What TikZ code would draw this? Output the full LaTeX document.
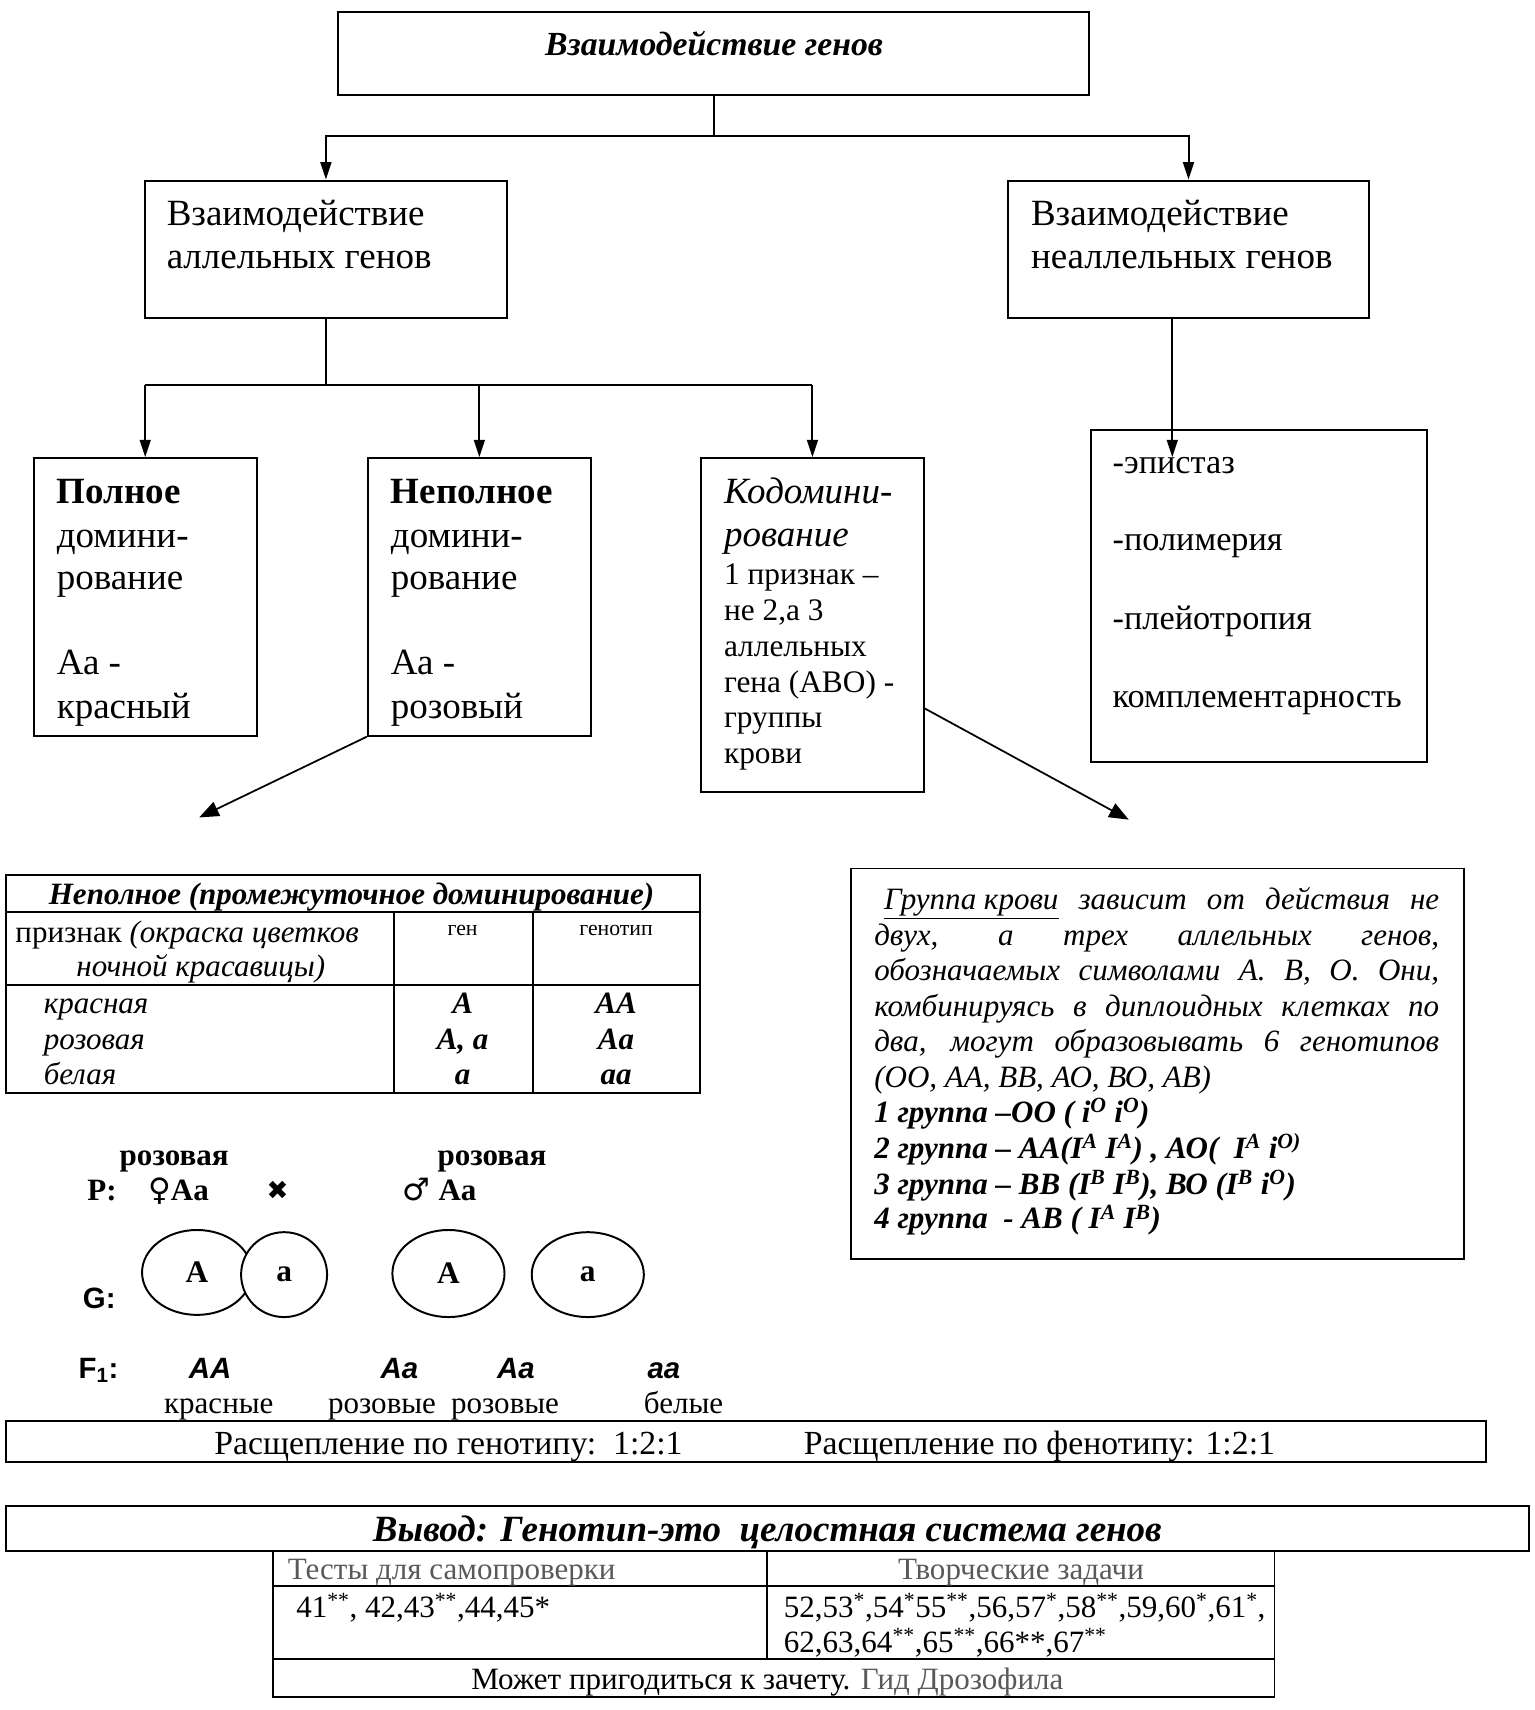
\documentclass[tikz,border=0pt]{standalone}
\usepackage{fontspec}
\setmainfont{Liberation Serif}
\setsansfont{Liberation Sans}
\newfontfamily\symfnt{DejaVu Sans}
\usetikzlibrary{arrows.meta,shapes.geometric}
\newcommand\szA{\fontsize{34}{40}\selectfont}
\newcommand\szT{\fontsize{31}{38}\selectfont}
\newcommand\szB{\fontsize{28.8}{33}\selectfont}
\newcommand\szE{\fontsize{31.5}{36}\selectfont}
\newcommand\szC{\fontsize{28.5}{32}\selectfont}
\newcommand\szR{\fontsize{31}{36}\selectfont}
\newcommand\szS{\fontsize{20}{24}\selectfont}
\definecolor{greytxt}{gray}{0.35}
\begin{document}
\begin{tikzpicture}[x=1pt,y=-1pt,
  box/.style={draw, line width=1.8pt, anchor=north west, inner sep=0pt},
  ln/.style={line width=1.8pt},
  tl/.style={line width=1.7pt},
  arr/.style={line width=1.8pt, -{Triangle[length=16pt,width=10pt]}},
  darr/.style={line width=1.6pt, -{Triangle[length=18pt,width=14pt]}},
  tw/.style={anchor=base west, inner sep=0pt},
  tc/.style={anchor=base, inner sep=0pt},
  gam/.style={draw, ellipse, line width=1.8pt, fill=white, inner sep=0pt, font=\szB\bfseries},
]
\path[use as bounding box] (0,0) rectangle (1410,1571);

% ---------- top hierarchy ----------
\node[box, minimum width=690, minimum height=76] (top) at (310,10) {};
\node[tc, font=\szT\bfseries\itshape] (toptxt) at (656,51) {Взаимодействие генов};

\node[box, minimum width=333, minimum height=126] (allel) at (132,165) {};
\node[tw, font=\szA] (al1) at (153,207) {Взаимодействие};
\node[tw, font=\szA] (al2) at (153,247) {аллельных генов};

\node[box, minimum width=332, minimum height=126] (nonal) at (925,165) {};
\node[tw, font=\szA] (na1) at (947,207) {Взаимодействие};
\node[tw, font=\szA] (na2) at (947,247) {неаллельных генов};

\coordinate (j1) at (656,125);
\draw[ln] (top.south) -- (top.south |- j1);
\draw[arr] (top.south |- j1) -| (allel.north);
\draw[arr] (top.south |- j1) -| (nonal.north);

% ---------- allelic types ----------
\node[box, minimum width=205, minimum height=255] (full) at (30,420) {};
\node[tw, font=\szA\bfseries] (f1) at (52,463) {Полное};
\node[tw, font=\szA] (f2) at (52,503) {домини-};
\node[tw, font=\szA] (f3) at (52,542) {рование};
\node[tw, font=\szA] (f4) at (52,620) {Аа -};
\node[tw, font=\szA] (f5) at (52,660) {красный};

\node[box, minimum width=205, minimum height=255] (incomp) at (337,420) {};
\node[tw, font=\szA\bfseries] (n1) at (359,463) {Неполное};
\node[tw, font=\szA] (n2) at (359,503) {домини-};
\node[tw, font=\szA] (n3) at (359,542) {рование};
\node[tw, font=\szA] (n4) at (359,620) {Аа -};
\node[tw, font=\szA] (n5) at (359,660) {розовый};

\node[box, minimum width=205, minimum height=307] (codom) at (643,420) {};
\node[tw, font=\szA\itshape] (c1) at (665,463) {Кодомини-};
\node[tw, font=\szA\itshape] (c2) at (665,502) {рование};
\node[tw, font=\szB] (c3) at (665,537) {1 признак –};
\node[tw, font=\szB] (c4) at (665,570) {не 2,а 3};
\node[tw, font=\szB] (c5) at (665,603) {аллельных};
\node[tw, font=\szB] (c6) at (665,636) {гена (АВО) -};
\node[tw, font=\szB] (c7) at (665,668) {группы};
\node[tw, font=\szB] (c8) at (665,701) {крови};

\coordinate (j2) at (298,354);
\draw[ln] (allel.south) -- (allel.south |- j2);
\draw[ln] (full.north |- j2) -- (codom.north |- j2);
\draw[arr] (full.north |- j2) -- (full.north);
\draw[arr] (incomp.north |- j2) -- (incomp.north);
\draw[arr] (codom.north |- j2) -- (codom.north);

% ---------- non-allelic ----------
\node[box, minimum width=309, minimum height=305] (nonlist) at (1001,394) {};
\node[tw, font=\szE] (e1) at (1022,435) {-эпистаз};
\node[tw, font=\szE] (e2) at (1022,506) {-полимерия};
\node[tw, font=\szE] (e3) at (1022,578) {-плейотропия};
\node[tw, font=\szE] (e4) at (1022,650) {комплементарность};
\coordinate (nstart) at (1077,291);
\coordinate (nend) at (1077,420);
\draw[arr] (nstart) -- (nend);

% ---------- diagonal arrows ----------
\coordinate (dl) at (183,751);
\coordinate (dr) at (1037,753);
\draw[darr] (incomp.south west) -- (dl);
\coordinate (cst) at (848,650);
\draw[darr] (cst) -- (dr);

% ---------- left table ----------
\node[draw, tl, anchor=north west, inner sep=0pt, minimum width=637, minimum height=200] (tab) at (5,803) {};
\draw[tl] (tab.west |- 0,838) -- (tab.east |- 0,838);
\draw[tl] (tab.west |- 0,905) -- (tab.east |- 0,905);
\draw[tl] (362,838) -- (362,1003);
\draw[tl] (490,838) -- (490,1003);
\node[tc, font=\szC\bfseries\itshape] (tt) at (323,831) {Неполное (промежуточное доминирование)};
\node[tw, font=\szC] (th1) at (14,866) {признак \textit{(окраска цветков}};
\node[tw, font=\szC\itshape] (th2) at (70,897) {ночной красавицы)};
\node[tc, font=\szS] (th3) at (425,859) {ген};
\node[tc, font=\szS] (th4) at (566,859) {генотип};
\node[tw, font=\szC\itshape] (r1) at (40,931) {красная};
\node[tw, font=\szC\itshape] (r2) at (40,964) {розовая};
\node[tw, font=\szC\itshape] (r3) at (40,996) {белая};
\node[tc, font=\szC\bfseries\itshape] (g1) at (425,931) {A};
\node[tc, font=\szC\bfseries\itshape] (g2) at (425,964) {A, a};
\node[tc, font=\szC\bfseries\itshape] (g3) at (425,996) {a};
\node[tc, font=\szC\bfseries\itshape] (k1) at (566,931) {AA};
\node[tc, font=\szC\bfseries\itshape] (k2) at (566,964) {Aa};
\node[tc, font=\szC\bfseries\itshape] (k3) at (566,996) {aa};

% ---------- right (blood group) box ----------
\node[box, minimum width=563, minimum height=359] (blood) at (781,797) {};
\begin{scope}[every node/.style={tw, font=\szC\itshape}]
\node (b1) at (803,836) {\makebox[519pt][s]{\hspace*{9pt}\underline{Группа крови} зависит от действия не}};
\node (b2) at (803,869) {\makebox[519pt][s]{двух, а трех аллельных генов,}};
\node (b3) at (803,901) {\makebox[519pt][s]{обозначаемых символами А. В, О. Они,}};
\node (b4) at (803,934) {\makebox[519pt][s]{комбинируясь в диплоидных клетках по}};
\node (b5) at (803,966) {\makebox[519pt][s]{два, могут образовывать 6 генотипов}};
\node (b6) at (803,999) {(ОО, АА, ВВ, АО, ВО, АВ)};
\node[font=\szC\bfseries\itshape] (b7) at (803,1031) {1 группа –ОО ( i\textsuperscript{O} i\textsuperscript{O})};
\node[font=\szC\bfseries\itshape] (b8) at (803,1064) {2 группа – АА(I\textsuperscript{A} I\textsuperscript{A}) , АО(\ \ I\textsuperscript{A} i\textsuperscript{O)}};
\node[font=\szC\bfseries\itshape] (b9) at (803,1097) {3 группа – ВВ (I\textsuperscript{B} I\textsuperscript{B}), ВО (I\textsuperscript{B} i\textsuperscript{O})};
\node[font=\szC\bfseries\itshape] (b10) at (803,1129) {4 группа \ - АВ ( I\textsuperscript{A} I\textsuperscript{B})};
\end{scope}

% ---------- cross scheme ----------
\node[tc, font=\szC\bfseries] (pr1) at (160,1071) {розовая};
\node[tc, font=\szC\bfseries] (pr2) at (452,1071) {розовая};
\node[tw, font=\szC\bfseries] (P) at (80,1103) {P:};
\node[tw, font=\szC\bfseries] (fem) at (136,1103) {{\symfnt\mdseries ♀}Aa};
\node[tc, font=\fontsize{24}{28}\selectfont\symfnt] (cross) at (255,1102) {✖};
\node[tw, font=\szC\bfseries] (mal) at (370,1103) {{\symfnt\mdseries ♂} Aa};

\node[gam, minimum width=101, minimum height=78] (gA1) at (181,1169) {A};
\node[gam, minimum width=79, minimum height=78] (ga1) at (261,1171) {a};
\node[gam, minimum width=103, minimum height=80] (gA2) at (412,1170) {A};
\node[gam, minimum width=103, minimum height=78] (ga2) at (540,1171) {a};
\node[tw, font=\fontsize{27}{32}\selectfont\sffamily\bfseries] (G) at (76,1202) {G:};

\node[tw, font=\fontsize{27}{32}\selectfont\sffamily\bfseries] (F) at (72,1266) {F\textsubscript{1}:};
\node[tc, font=\fontsize{27}{32}\selectfont\sffamily\bfseries\itshape] (o1) at (193,1266) {AA};
\node[tc, font=\fontsize{27}{32}\selectfont\sffamily\bfseries\itshape] (o2) at (367,1266) {Aa};
\node[tc, font=\fontsize{27}{32}\selectfont\sffamily\bfseries\itshape] (o3) at (474,1266) {Aa};
\node[tc, font=\fontsize{27}{32}\selectfont\sffamily\bfseries\itshape] (o4) at (610,1266) {aa};
\node[tc, font=\szC] (p1) at (201,1299) {красные};
\node[tc, font=\szC] (p2) at (351,1299) {розовые};
\node[tc, font=\szC] (p3) at (464,1299) {розовые};
\node[tc, font=\szC] (p4) at (628,1299) {белые};

\node[draw, tl, anchor=north west, inner sep=0pt, minimum width=1359, minimum height=37] (split) at (5,1305) {};
\node[tc, font=\szR] (s1) at (412,1336) {Расщепление по генотипу:\ \ 1:2:1};
\node[tc, font=\szR] (s2) at (955,1336) {Расщепление по фенотипу: 1:2:1};

% ---------- conclusion ----------
\node[draw, ln, anchor=north west, inner sep=0pt, minimum width=1399, minimum height=41] (concl) at (5,1383) {};
\node[tc, font=\fontsize{34}{40}\selectfont\bfseries\itshape] (ct) at (705,1416) {Вывод: Генотип-это\ \ целостная система генов};

\node[draw, tl, anchor=north west, inner sep=0pt, minimum width=920, minimum height=134] (tasks) at (250,1424) {};
\draw[tl] (tasks.west |- 0,1457) -- (tasks.east |- 0,1457);
\draw[tl] (tasks.west |- 0,1524) -- (tasks.east |- 0,1524);
\draw[tl] (705,1424) -- (705,1524);
\node[tc, font=\szC, text=greytxt] (h1) at (415,1451) {Тесты для самопроверки};
\node[tc, font=\szC, text=greytxt] (h2) at (938,1451) {Творческие задачи};
\node[tw, font=\szC] (l1) at (272,1486) {41\textsuperscript{**}, 42,43\textsuperscript{**},44,45*};
\node[tw, font=\szC] (rr1) at (720,1486) {52,53\textsuperscript{*},54\textsuperscript{*}55\textsuperscript{**},56,57\textsuperscript{*},58\textsuperscript{**},59,60\textsuperscript{*},61\textsuperscript{*},};
\node[tw, font=\szC] (rr2) at (720,1518) {62,63,64\textsuperscript{**},65\textsuperscript{**},66**,67\textsuperscript{**}};
\node[tc, font=\szC] (mb) at (705,1552) {Может пригодиться к зачету. \textcolor{greytxt}{Гид Дрозофила}};
\end{tikzpicture}
\end{document}
